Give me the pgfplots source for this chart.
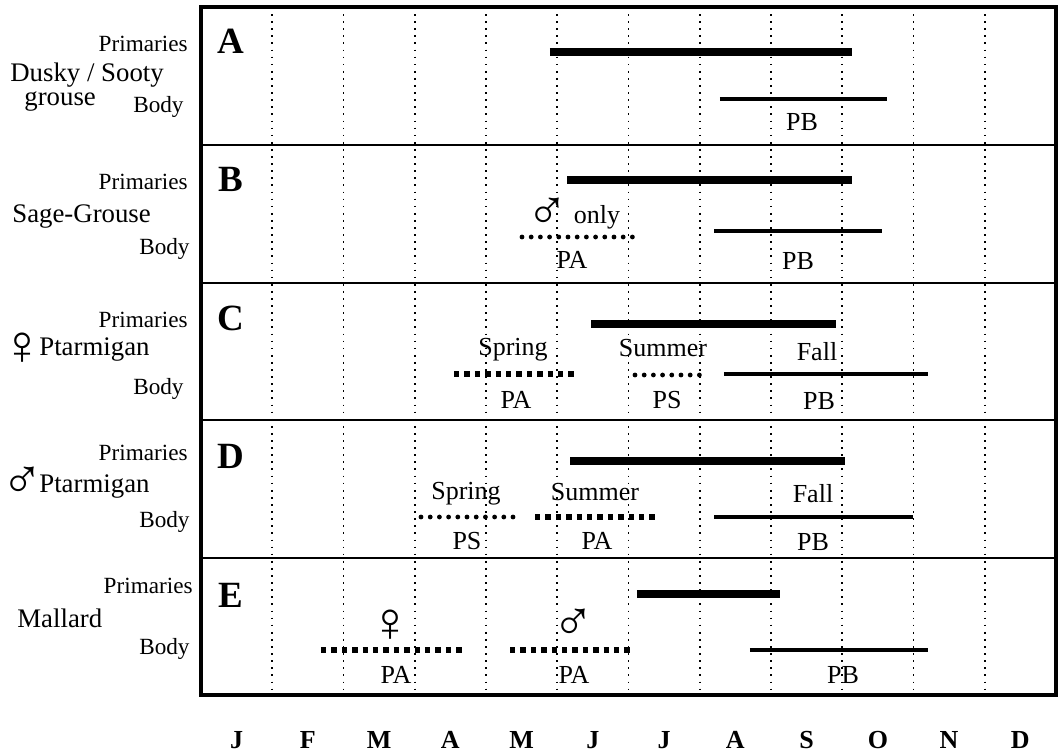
\documentclass[border=0pt]{standalone}
\usepackage{fontspec}
\setmainfont{Liberation Serif}
\usepackage{pgfplots}
\pgfplotsset{compat=1.18}
\newcommand{\X}[1]{(#1-201)/71.25}
\newcommand{\fA}{\fontsize{11.6}{13}\selectfont}
\newcommand{\fS}{\fontsize{13.4}{15}\selectfont}
\newcommand{\fT}{\fontsize{13}{15}\selectfont}
\newcommand{\fL}{\fontsize{18.5}{20}\selectfont\bfseries}
\newcommand{\fM}{\fontsize{13}{15}\selectfont\bfseries}
\newcommand{\fY}{\fontsize{28}{30}\selectfont}
\tikzset{
  prim/.style={black, line width=4pt},
  body/.style={black, line width=2.1pt},
  sq/.style={black, line width=2.7pt, dash pattern=on 2.7pt off 2.5pt},
  rd/.style={black, line width=2.4pt, line cap=round, dash pattern=on 0pt off 4.6pt},
  lb/.style={inner sep=0pt, anchor=base},
}
\begin{document}
\begin{tikzpicture}
\begin{axis}[
  width=427.5pt, height=344pt, scale only axis,
  xmin=0, xmax=12, ymin=7, ymax=695, y dir=reverse,
  enlargelimits=false, clip=false,
  axis line style={line width=2pt},
  xtick={1,...,11}, xticklabels={}, ytick=\empty,
  major tick length=0pt,
  xmajorgrids,
  major grid style={black, line width=0.85pt, dash pattern=on 0.85pt off 2.7pt},
]
% panel separators
\draw[line width=0.8pt] (axis cs:0,145) -- (axis cs:12,145);
\draw[line width=0.8pt] (axis cs:0,283) -- (axis cs:12,283);
\draw[line width=0.8pt] (axis cs:0,420) -- (axis cs:12,420);
\draw[line width=0.8pt] (axis cs:0,558) -- (axis cs:12,558);

% Panel A
\addplot[prim] coordinates {(4.898,52) (9.137,52)};
\addplot[body] coordinates {(7.284,99) (9.628,99)};
% Panel B
\addplot[prim] coordinates {(5.137,180.5) (9.137,180.5)};
\addplot[body] coordinates {(7.200,231) (9.558,231)};
\addplot[rd] coordinates {(4.505,237) (6.077,237)};
% Panel C
\addplot[prim] coordinates {(5.474,324) (8.912,324)};
\addplot[body] coordinates {(7.340,374) (10.204,374)};
\addplot[sq] coordinates {(3.551,374) (5.291,374)};
\addplot[rd] coordinates {(6.091,375) (7.074,375)};
% Panel D
\addplot[prim] coordinates {(5.179,461) (9.039,461)};
\addplot[body] coordinates {(7.200,517) (9.993,517)};
\addplot[rd] coordinates {(3.088,517) (4.505,517)};
\addplot[sq] coordinates {(4.688,517) (6.428,517)};
% Panel E
\addplot[prim] coordinates {(6.119,594) (8.126,594)};
\addplot[body] coordinates {(7.705,650) (10.204,650)};
\addplot[sq] coordinates {(1.684,650) (3.677,650)};
\addplot[sq] coordinates {(4.337,650) (6.049,650)};

% panel letters
\node[lb] at (axis cs:{\X{231}},54) {\fL A};
\node[lb] at (axis cs:{\X{231}},192) {\fL B};
\node[lb] at (axis cs:{\X{231}},331) {\fL C};
\node[lb] at (axis cs:{\X{231}},468) {\fL D};
\node[lb] at (axis cs:{\X{231}},607) {\fL E};

% left labels
\node[lb, anchor=base east] at (axis cs:{\X{188}},52) {\fA Primaries};
\node[lb, anchor=base west] at (axis cs:{\X{10}},82) {\fS Dusky / Sooty};
\node[lb, anchor=base west] at (axis cs:{\X{24}},106) {\fS grouse};
\node[lb, anchor=base east] at (axis cs:{\X{184}},113) {\fA Body};

\node[lb, anchor=base east] at (axis cs:{\X{188}},190) {\fA Primaries};
\node[lb, anchor=base west] at (axis cs:{\X{12}},223) {\fS Sage-Grouse};
\node[lb, anchor=base east] at (axis cs:{\X{190}},255) {\fA Body};

\node[lb, anchor=base east] at (axis cs:{\X{188}},328) {\fA Primaries};
\node[inner sep=0pt, anchor=center] at (axis cs:{\X{22.5}},349) {\fY ♀};
\node[lb, anchor=base west] at (axis cs:{\X{39}},356) {\fS Ptarmigan};
\node[lb, anchor=base east] at (axis cs:{\X{184}},394) {\fA Body};

\node[lb, anchor=base east] at (axis cs:{\X{188}},460) {\fA Primaries};
\node[inner sep=0pt, anchor=center] at (axis cs:{\X{22.5}},483) {\fY ♂};
\node[lb, anchor=base west] at (axis cs:{\X{39}},492) {\fS Ptarmigan};
\node[lb, anchor=base east] at (axis cs:{\X{190}},527) {\fA Body};

\node[lb, anchor=base east] at (axis cs:{\X{193}},593) {\fA Primaries};
\node[lb, anchor=base west] at (axis cs:{\X{17}},627) {\fS Mallard};
\node[lb, anchor=base east] at (axis cs:{\X{190}},654) {\fA Body};

% inner annotations
\node[lb] at (axis cs:{\X{802}},131) {\fT PB};

\node[inner sep=0pt, anchor=center] at (axis cs:{\X{548}},214) {\fY ♂};
\node[lb] at (axis cs:{\X{597}},224) {\fT only};
\node[lb] at (axis cs:{\X{572}},269) {\fT PA};
\node[lb] at (axis cs:{\X{798}},270) {\fT PB};

\node[lb] at (axis cs:{\X{513}},356) {\fT Spring};
\node[lb] at (axis cs:{\X{663}},357) {\fT Summer};
\node[lb] at (axis cs:{\X{817}},360) {\fT Fall};
\node[lb] at (axis cs:{\X{516}},408) {\fT PA};
\node[lb] at (axis cs:{\X{667}},408) {\fT PS};
\node[lb] at (axis cs:{\X{819}},409) {\fT PB};

\node[lb] at (axis cs:{\X{466}},499) {\fT Spring};
\node[lb] at (axis cs:{\X{595}},500) {\fT Summer};
\node[lb] at (axis cs:{\X{813}},502) {\fT Fall};
\node[lb] at (axis cs:{\X{467}},549) {\fT PS};
\node[lb] at (axis cs:{\X{597}},549) {\fT PA};
\node[lb] at (axis cs:{\X{813}},550) {\fT PB};

\node[inner sep=0pt, anchor=center] at (axis cs:{\X{391}},626) {\fY ♀};
\node[inner sep=0pt, anchor=center] at (axis cs:{\X{573}},625) {\fY ♂};
\node[lb] at (axis cs:{\X{396}},683) {\fT PA};
\node[lb] at (axis cs:{\X{574}},683) {\fT PA};
\node[lb] at (axis cs:{\X{843}},683) {\fT PB};

% month labels
\node[lb] at (axis cs:0.5,748) {\fM J};
\node[lb] at (axis cs:1.5,748) {\fM F};
\node[lb] at (axis cs:2.5,748) {\fM M};
\node[lb] at (axis cs:3.5,748) {\fM A};
\node[lb] at (axis cs:4.5,748) {\fM M};
\node[lb] at (axis cs:5.5,748) {\fM J};
\node[lb] at (axis cs:6.5,748) {\fM J};
\node[lb] at (axis cs:7.5,748) {\fM A};
\node[lb] at (axis cs:8.5,748) {\fM S};
\node[lb] at (axis cs:9.5,748) {\fM O};
\node[lb] at (axis cs:10.5,748) {\fM N};
\node[lb] at (axis cs:11.5,748) {\fM D};

% bounding frame (invisible)
\path (axis cs:{\X{0}},0) rectangle (axis cs:{\X{1059}},753);
\end{axis}
\end{tikzpicture}
\end{document}
